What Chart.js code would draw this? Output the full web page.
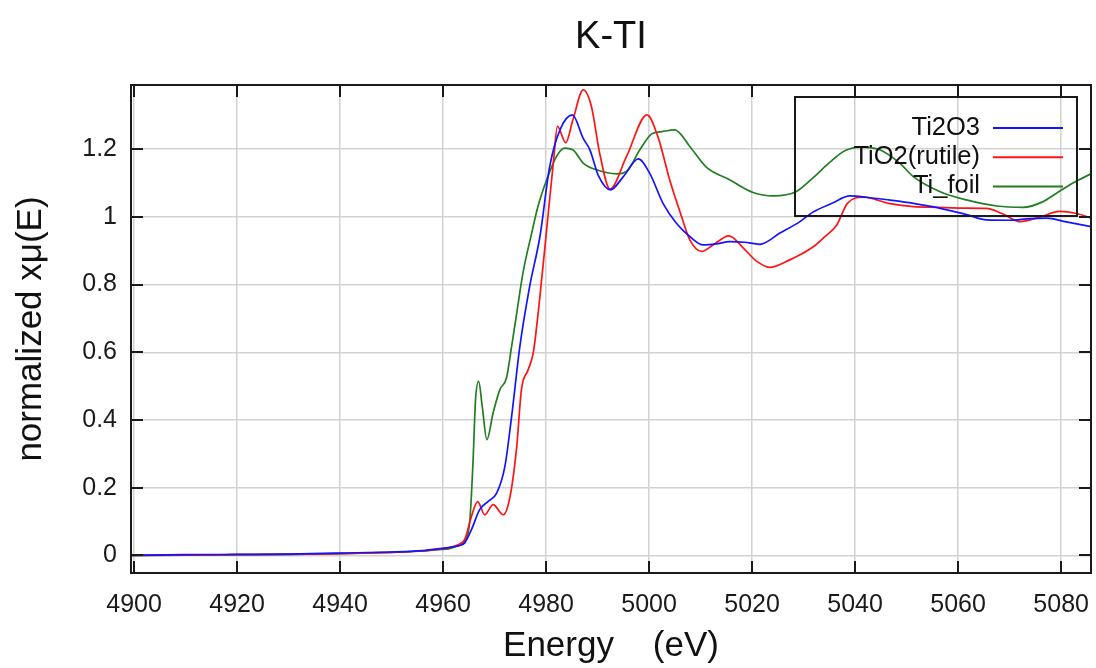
<!DOCTYPE html>
<html>
<head>
<meta charset="utf-8">
<script src="https://cdn.jsdelivr.net/npm/chart.js@4/dist/chart.umd.min.js"></script>
<style>
  html, body { margin: 0; padding: 0; background: #fff; }
  #chart { display: block; }
</style>
</head>
<body>
<canvas id="chart" width="1096" height="668"></canvas>
<script>
// Ti K-edge XANES
const ti2o3Energy = [4899.4, 4910, 4920, 4930, 4940, 4950, 4956, 4959, 4961.3, 4963, 4964.2, 4965.5, 4967.1, 4968.7, 4970.4, 4972, 4973.3, 4974.9, 4976.8, 4978.8, 4980.7, 4982.7, 4985.1, 4987.2, 4988.5, 4990.2, 4992.5, 4995, 4997.9, 5000.1, 5002.7, 5005.3, 5007.9, 5010.5, 5013, 5015.7, 5018.5, 5021.5, 5025.4, 5029.3, 5031.8, 5035.5, 5039, 5042.2, 5046.5, 5051.3, 5055, 5059.1, 5062, 5065.5, 5070, 5074, 5077.2, 5081, 5085.9];
const ti2o3Mu = [0.0, 0.002, 0.003, 0.004, 0.007, 0.01, 0.014, 0.019, 0.024, 0.028, 0.037, 0.076, 0.135, 0.159, 0.184, 0.263, 0.41, 0.617, 0.794, 0.942, 1.149, 1.257, 1.301, 1.232, 1.198, 1.12, 1.08, 1.119, 1.171, 1.129, 1.04, 0.981, 0.942, 0.917, 0.92, 0.927, 0.925, 0.919, 0.952, 0.986, 1.014, 1.04, 1.062, 1.058, 1.05, 1.04, 1.03, 1.016, 1.005, 0.991, 0.99, 0.995, 0.996, 0.985, 0.971];

const tio2Energy = [4899.4, 4910, 4920, 4930, 4940, 4950, 4956, 4959, 4961.3, 4963, 4964.2, 4965.5, 4966.7, 4968.1, 4969.7, 4971.7, 4973, 4974.3, 4975.2, 4976.5, 4977.5, 4978.8, 4980.1, 4981.4, 4982.2, 4983.8, 4985.2, 4987.2, 4988.8, 4990.4, 4992.4, 4995.6, 4999.6, 5001.7, 5004, 5006.3, 5007.9, 5010.2, 5012.4, 5015.5, 5018.3, 5020.8, 5023.4, 5027.3, 5029.3, 5031.8, 5034, 5036.4, 5038.5, 5041.6, 5046.8, 5051.3, 5056, 5061, 5065.5, 5068.5, 5072, 5076, 5079.7, 5083, 5085.9];
const tio2Mu = [0.0, 0.001, 0.002, 0.003, 0.005, 0.009, 0.013, 0.018, 0.023, 0.032, 0.047, 0.115, 0.159, 0.12, 0.15, 0.12, 0.174, 0.322, 0.489, 0.548, 0.598, 0.765, 0.962, 1.159, 1.267, 1.219, 1.286, 1.375, 1.326, 1.188, 1.082, 1.178, 1.301, 1.237, 1.109, 1.001, 0.932, 0.898, 0.917, 0.944, 0.908, 0.87, 0.851, 0.873, 0.888, 0.911, 0.94, 0.975, 1.04, 1.058, 1.039, 1.03, 1.028, 1.026, 1.025, 1.01, 0.986, 1.0, 1.016, 1.01, 0.996];

const tiFoilEnergy = [4899.4, 4910, 4920, 4930, 4940, 4950, 4956, 4959, 4961.3, 4963, 4964.2, 4965.2, 4965.8, 4966.3, 4966.9, 4967.6, 4968.5, 4969.7, 4971, 4972.3, 4973.3, 4974.3, 4975.5, 4977.2, 4978.4, 4980.1, 4982, 4983.6, 4985.2, 4987.2, 4989.8, 4993.7, 4995.6, 4998.2, 5000.5, 5002.5, 5005, 5007.9, 5011.1, 5015.7, 5020.2, 5024.1, 5028.6, 5031.8, 5035, 5038, 5040.9, 5044.8, 5048.7, 5051.3, 5056.4, 5061.6, 5067.5, 5072.6, 5076.5, 5079.1, 5082.3, 5085.9];
const tiFoilMu = [0.0, 0.001, 0.002, 0.003, 0.005, 0.009, 0.013, 0.017, 0.02, 0.03, 0.041, 0.105, 0.273, 0.46, 0.514, 0.44, 0.342, 0.42, 0.489, 0.524, 0.617, 0.716, 0.834, 0.952, 1.03, 1.109, 1.178, 1.203, 1.198, 1.159, 1.139, 1.127, 1.134, 1.198, 1.245, 1.252, 1.257, 1.208, 1.147, 1.109, 1.072, 1.062, 1.075, 1.115, 1.16, 1.195, 1.206, 1.198, 1.158, 1.119, 1.075, 1.05, 1.032, 1.028, 1.045, 1.07, 1.1, 1.128];

const seriesNames = ['Ti2O3', 'TiO2(rutile)', 'Ti_foil'];
const seriesColors = ['rgb(20,20,255)', 'rgb(255,20,20)', 'rgb(35,125,35)'];

const xTicks = [4900, 4920, 4940, 4960, 4980, 5000, 5020, 5040, 5060, 5080];
const yTicks = [0, 0.2, 0.4, 0.6, 0.8, 1, 1.2];

const FONT = "'Liberation Sans', Arial, sans-serif";

function toPoints(xs, ys) {
    return xs.map((x, i) => ({ x: x, y: ys[i] }));
}

function makeDataset(i, xs, ys) {
    return {
        label: seriesNames[i],
        data: toPoints(xs, ys),
        borderColor: seriesColors[i],
        borderWidth: 1.7,
        pointRadius: 0,
        fill: false,
        cubicInterpolationMode: 'monotone'
    };
}

// black frame, inward tick marks and the boxed legend
const framePlugin = {
    id: 'frame',
    afterDraw(chart) {
        const ctx = chart.ctx;
        const a = chart.chartArea;
        const x = chart.scales.x;
        const y = chart.scales.y;
        const tl = 12;
        ctx.save();
        ctx.strokeStyle = '#1a1a1a';
        ctx.lineWidth = 2;
        ctx.strokeRect(a.left, a.top, a.right - a.left, a.bottom - a.top);
        ctx.beginPath();
        x.ticks.forEach(t => {
            const px = Math.round(x.getPixelForValue(t.value));
            ctx.moveTo(px, a.bottom); ctx.lineTo(px, a.bottom - tl);
            ctx.moveTo(px, a.top); ctx.lineTo(px, a.top + tl);
        });
        y.ticks.forEach(t => {
            const py = Math.round(y.getPixelForValue(t.value));
            ctx.moveTo(a.left, py); ctx.lineTo(a.left + tl, py);
            ctx.moveTo(a.right, py); ctx.lineTo(a.right - tl, py);
        });
        ctx.stroke();

        // legend
        const bw = 282, bh = 119;
        const bx = a.right - 14 - bw;
        const by = a.top + 12;
        ctx.strokeRect(bx, by, bw, bh);
        ctx.font = '25.5px ' + FONT;
        ctx.textAlign = 'right';
        ctx.textBaseline = 'middle';
        chart.data.datasets.forEach((ds, i) => {
            const ry = by + 31 + i * 29.2;
            ctx.fillStyle = '#111';
            ctx.fillText(ds.label, bx + 185, ry);
            ctx.strokeStyle = ds.borderColor;
            ctx.lineWidth = 2;
            ctx.beginPath();
            ctx.moveTo(bx + 198, ry);
            ctx.lineTo(bx + 268, ry);
            ctx.stroke();
        });
        ctx.restore();
    }
};

new Chart(document.getElementById('chart').getContext('2d'), {
    type: 'line',
    data: {
        datasets: [
            makeDataset(0, ti2o3Energy, ti2o3Mu),
            makeDataset(1, tio2Energy, tio2Mu),
            makeDataset(2, tiFoilEnergy, tiFoilMu)
        ]
    },
    options: {
        responsive: false,
        animation: false,
        layout: { padding: { left: 0, right: 5, top: 0, bottom: 0 } },
        plugins: {
            legend: { display: false },
            tooltip: { enabled: false },
            title: {
                display: true,
                text: 'K-TI',
                fullSize: false,
                color: '#111',
                font: { family: FONT, size: 38, weight: 'normal' },
                padding: { top: 15, bottom: 24.4 }
            }
        },
        scales: {
            x: {
                type: 'linear',
                min: 4899.4,
                max: 5085.8,
                afterBuildTicks: s => { s.ticks = xTicks.map(v => ({ value: v })); },
                afterFit: s => { s.height = 95; s.paddingLeft = 0; s.paddingRight = 0; },
                grid: { color: '#d2d2d2', lineWidth: 1.5, drawTicks: false },
                border: { display: false },
                ticks: {
                    padding: 17,
                    maxRotation: 0,
                    autoSkip: false,
                    color: '#1a1a1a',
                    font: { family: FONT, size: 25 },
                    callback: v => String(v)
                },
                title: {
                    display: true,
                    text: 'Energy    (eV)',
                    color: '#111',
                    font: { family: FONT, size: 35 },
                    padding: { top: 0, bottom: 1 }
                }
            },
            y: {
                type: 'linear',
                min: -0.052,
                max: 1.3895,
                afterBuildTicks: s => { s.ticks = yTicks.map(v => ({ value: v })); },
                afterFit: s => { s.width = 131; s.paddingTop = 0; s.paddingBottom = 0; },
                grid: { color: '#d2d2d2', lineWidth: 1.5, drawTicks: false },
                border: { display: false },
                ticks: {
                    padding: 14,
                    autoSkip: false,
                    color: '#1a1a1a',
                    font: { family: FONT, size: 25 },
                    callback: v => String(Math.round(v * 10) / 10)
                },
                title: {
                    display: true,
                    text: 'normalized xμ(E)',
                    color: '#111',
                    font: { family: FONT, size: 35 },
                    padding: { top: 10, bottom: 0 }
                }
            }
        }
    },
    plugins: [framePlugin]
});
</script>
</body>
</html>
